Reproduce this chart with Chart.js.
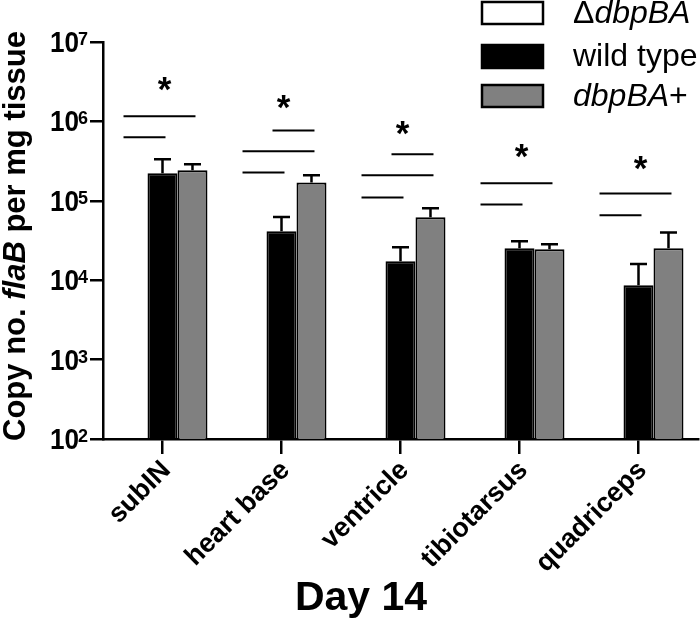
<!DOCTYPE html>
<html>
<head>
<meta charset="utf-8">
<script src="https://cdn.jsdelivr.net/npm/chart.js@4.4.0/dist/chart.umd.min.js"></script>
<style>
  html, body { margin: 0; padding: 0; background: #fff; }
  #wrap { width: 700px; height: 621px; }
</style>
</head>
<body>
<div id="wrap"><canvas id="chart" width="700" height="621"></canvas></div>
<script>
const categories = ["subIN", "heart base", "ventricle", "tibiotarsus", "quadriceps"];

// copies per mg tissue, mean and SEM (upper whisker only)
const deltaMean = [null, null, null, null, null]; // not detected
const wtMean = [2.22e5, 4.13e4, 1.73e4, 2.53e4, 8.65e3];
const wtErr = [1.11e5, 2.1e4, 8.7e3, 5.7e3, 7.4e3];
const compMean = [2.42e5, 1.7e5, 6.2e4, 2.45e4, 2.53e4];
const compErr = [4.6e4, 4.0e4, 1.85e4, 3.8e3, 1.47e4];

const yTicks = [1e2, 1e3, 1e4, 1e5, 1e6, 1e7];

// significance bars: which bars are compared (0 = ΔdbpBA, 1 = wild type, 2 = dbpBA+) and at what level
const sigPairs = [
  [[0, 1], [0, 2]],
  [[0, 1], [0, 2], [1, 2]],
  [[0, 1], [0, 2], [1, 2]],
  [[0, 1], [0, 2]],
  [[0, 1], [0, 2]]
];
const sigLevels = [
  [6.3e5, 1.16e6],
  [2.28e5, 4.2e5, 7.7e5],
  [1.1e5, 2.1e5, 3.85e5],
  [9.0e4, 1.66e5],
  [6.6e4, 1.24e5]
];
const starLevels = [3.3e6, 1.95e6, 9.4e5, 4.7e5, 3.4e5];

const FONT = 'Arial, "Liberation Sans", Helvetica, sans-serif';
const CAT_PCT = 0.756;

function barCenter(chart, j, k) {
  const x = chart.scales.x;
  const bw = (x.width / categories.length) * CAT_PCT / 3;
  return x.getPixelForValue(j) + (k - 1) * bw;
}

// parts: [[text, italic, bold]]
function drawParts(ctx, parts, x, y, size) {
  let cx = x;
  parts.forEach(([t, it, bold]) => {
    ctx.font = `${it ? "italic " : ""}${bold ? "bold " : ""}${size}px ${FONT}`;
    ctx.fillText(t, cx, y);
    cx += ctx.measureText(t).width;
  });
  return cx - x;
}

function partsWidth(ctx, parts, size) {
  let w = 0;
  parts.forEach(([t, it, bold]) => {
    ctx.font = `${it ? "italic " : ""}${bold ? "bold " : ""}${size}px ${FONT}`;
    w += ctx.measureText(t).width;
  });
  return w;
}

const extras = {
  id: "extras",
  afterDatasetsDraw(chart) {
    const ctx = chart.ctx;
    const y = chart.scales.y;
    ctx.save();
    ctx.strokeStyle = "#000";
    ctx.fillStyle = "#000";

    // error bars
    [[1, wtMean, wtErr], [2, compMean, compErr]].forEach(([k, m, e]) => {
      const meta = chart.getDatasetMeta(k);
      meta.data.forEach((el, j) => {
        const top = y.getPixelForValue(m[j] + e[j]);
        ctx.lineWidth = 2.5;
        ctx.beginPath();
        ctx.moveTo(el.x, el.y);
        ctx.lineTo(el.x, top);
        ctx.moveTo(el.x - 8.5, top);
        ctx.lineTo(el.x + 8.5, top);
        ctx.stroke();
      });
    });

    // significance lines
    const bw = (chart.scales.x.width / categories.length) * CAT_PCT / 3;
    ctx.lineWidth = 2;
    sigPairs.forEach((pairs, j) => {
      pairs.forEach(([a, b], n) => {
        const py = y.getPixelForValue(sigLevels[j][n]);
        ctx.beginPath();
        ctx.moveTo(barCenter(chart, j, a) - 0.3 * bw, py);
        ctx.lineTo(barCenter(chart, j, b) + 0.1 * bw, py);
        ctx.stroke();
      });
    });

    // asterisks
    ctx.font = `bold 35px ${FONT}`;
    ctx.textAlign = "center";
    ctx.textBaseline = "alphabetic";
    starLevels.forEach((v, j) => {
      ctx.fillText("*", chart.scales.x.getPixelForValue(j) + 2, y.getPixelForValue(v) + 21);
    });
    ctx.restore();
  },
  afterDraw(chart) {
    const ctx = chart.ctx;
    const x = chart.scales.x;
    const y = chart.scales.y;
    ctx.save();
    ctx.fillStyle = "#000";

    // y tick labels 10^n
    yTicks.forEach(v => {
      const py = y.getPixelForValue(v);
      const ex = String(Math.round(Math.log10(v)));
      ctx.textAlign = "right";
      ctx.textBaseline = "alphabetic";
      ctx.font = `bold 18px ${FONT}`;
      ctx.fillText(ex, 88, py + 3);
      const ew = ctx.measureText(ex).width;
      ctx.font = `bold 29px ${FONT}`;
      ctx.save();
      ctx.translate(88 - ew + 1, py + 10);
      ctx.scale(0.9, 1);
      ctx.fillText("10", 0, 0);
      ctx.restore();
    });

    // x tick labels, rotated
    ctx.font = `bold 27px ${FONT}`;
    ctx.textAlign = "right";
    ctx.textBaseline = "middle";
    categories.forEach((c, j) => {
      ctx.save();
      ctx.translate(x.getPixelForValue(j) + 4, 466);
      ctx.rotate(-Math.PI / 4);
      ctx.fillText(c, 0, 0);
      ctx.restore();
    });

    // y title
    const title = [["Copy no. ", false, true], ["flaB", true, true], [" per mg tissue", false, true]];
    ctx.save();
    ctx.translate(25, 236);
    ctx.rotate(-Math.PI / 2);
    ctx.textAlign = "left";
    ctx.textBaseline = "alphabetic";
    const tw = partsWidth(ctx, title, 31);
    drawParts(ctx, title, -tw / 2, 0, 31);
    ctx.restore();

    // x title
    ctx.font = `bold 41px ${FONT}`;
    ctx.textAlign = "center";
    ctx.textBaseline = "alphabetic";
    ctx.fillText("Day 14", 361, 610);

    // legend
    const legend = [
      [[["\u0394", false], ["dbpBA", true]], "#fff", 2, 22],
      [[["wild type", false]], "#000", 45, 23],
      [[["dbpBA", true], ["+", false]], "#808080", 85, 22]
    ];
    legend.forEach(([parts, col, top, h]) => {
      ctx.fillStyle = col;
      ctx.fillRect(482, top, 61, h);
      ctx.strokeStyle = "#000";
      ctx.lineWidth = 2.5;
      ctx.strokeRect(482, top, 61, h);
      ctx.fillStyle = "#000";
      ctx.textAlign = "left";
      ctx.textBaseline = "middle";
      drawParts(ctx, parts, 573, top + h / 2 + 1, 32);
    });
    ctx.restore();
  }
};

new Chart(document.getElementById("chart"), {
  type: "bar",
  data: {
    labels: categories,
    datasets: [
      { label: "\u0394dbpBA", data: deltaMean, backgroundColor: "#fff", borderColor: "#000", borderWidth: 2 },
      { label: "wild type", data: wtMean, backgroundColor: "#000", borderColor: "#000", borderWidth: 2 },
      { label: "dbpBA+", data: compMean, backgroundColor: "#808080", borderColor: "#000", borderWidth: 2 }
    ]
  },
  options: {
    responsive: false,
    animation: false,
    events: [],
    categoryPercentage: CAT_PCT,
    barPercentage: 1,
    layout: { padding: { left: 90, right: 2, top: 42, bottom: 167 } },
    plugins: {
      legend: { display: false },
      tooltip: { enabled: false }
    },
    scales: {
      x: {
        offset: true,
        ticks: { display: false },
        grid: { drawOnChartArea: false, offset: false, tickLength: 15, color: "#000", lineWidth: 2.5 },
        border: { color: "#000", width: 2.5 }
      },
      y: {
        type: "logarithmic",
        min: 100,
        max: 1e7,
        afterBuildTicks: s => { s.ticks = yTicks.map(v => ({ value: v })); },
        ticks: { display: false },
        grid: { drawOnChartArea: false, tickLength: 13, color: "#000", lineWidth: 2.5 },
        border: { color: "#000", width: 2.5 }
      }
    }
  },
  plugins: [extras]
});
</script>
</body>
</html>
